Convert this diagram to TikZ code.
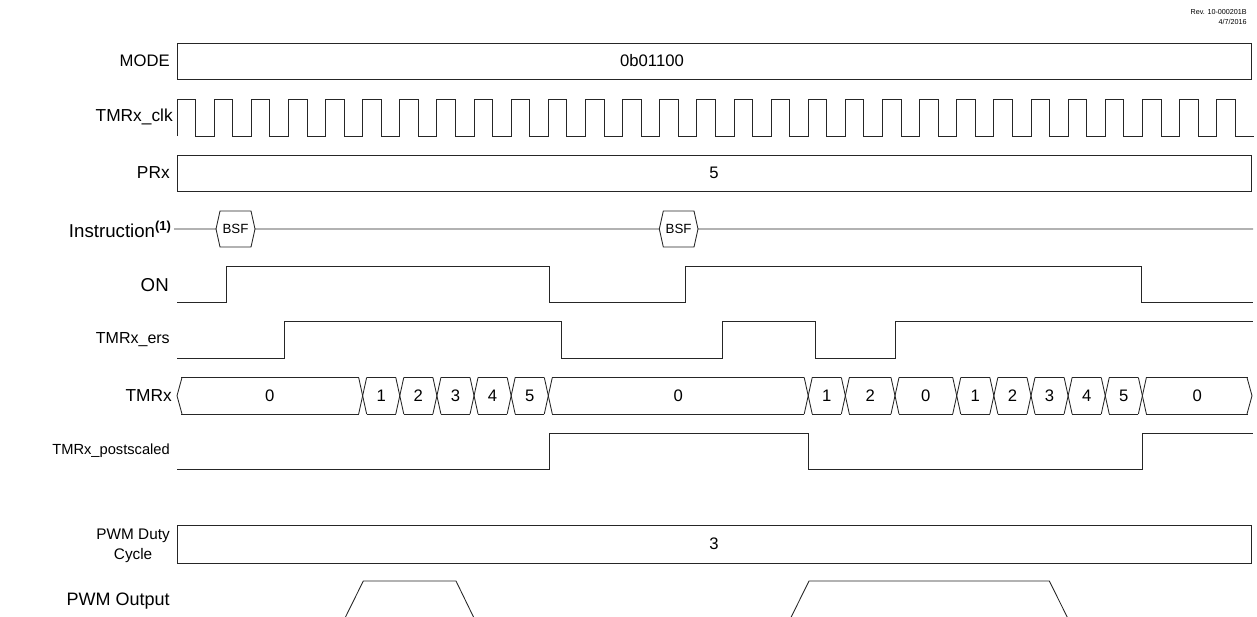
\documentclass[tikz,border=0pt]{standalone}
\usepackage{fontspec}
\setmainfont{Liberation Sans}
\begin{document}
\begin{tikzpicture}[x=0.75pt,y=-0.75pt,
  sig/.style={draw=black!85,line width=0.65pt,line join=miter},
  lbl/.style={anchor=east,inner sep=0pt,font=\fontsize{12.5}{14}\selectfont},
  val/.style={inner sep=0pt,font=\fontsize{12.5}{14}\selectfont},
  hexlbl/.style={inner sep=0pt,font=\fontsize{10}{12}\selectfont}]
\useasboundingbox (0,0) rectangle (1257,617);
\begin{scope}
\clip (0,0) rectangle (1257,617);
% Rev text
\node[anchor=east,align=right,inner sep=0pt,font=\fontsize{5.4}{8}\selectfont] (rev) at (1247,17) {Rev. 10-000201B\\4/7/2016};
% labels
\node[lbl] (lmode) at (170,61) {MODE};
\node[lbl,font=\fontsize{13}{15}\selectfont] (lclk) at (173,117) {TMRx\_clk};
\node[lbl,font=\fontsize{13}{15}\selectfont] (lprx) at (170,173) {PRx};
\node[lbl,font=\fontsize{14}{16}\selectfont] (linst) at (172,229) {Instruction\textsuperscript{\textbf{(1)}}};
\node[lbl,font=\fontsize{14}{16}\selectfont] (lon) at (169,285) {ON};
\node[lbl,font=\fontsize{12}{14}\selectfont] (lers) at (170,340) {TMRx\_ers};
\node[lbl,font=\fontsize{13}{15}\selectfont] (ltmr) at (172,396) {TMRx};
\node[lbl,font=\fontsize{11}{13}\selectfont] (lpost) at (170,451) {TMRx\_postscaled};
\node[lbl,align=center,font=\fontsize{11.5}{15}\selectfont] (lduty) at (170,546) {PWM Duty\\Cycle};
\node[lbl,font=\fontsize{13.5}{16}\selectfont] (lpwm) at (170,601) {PWM Output};
% MODE
\draw[sig] (177,43.5) rectangle (1251,79);
\node[val] (vmode) at (652,61) {0b01100};
% clock
\draw[sig] (177,136) \foreach \k in {0,...,28}{
  -- ({177+37.13*\k},99) -- ({177+37.13*\k+18.56},99) -- ({177+37.13*\k+18.56},136) -- ({177+37.13*(\k+1)},136)};
% PRx
\draw[sig] (177,155) rectangle (1251,191);
\node[val] (vprx) at (714,173) {5};
% Instruction
\draw[sig] (174,229) -- (216,229) -- (220,211) -- (251,211) -- (255,229) -- (659.3,229) -- (663.3,211) -- (694,211) -- (698,229) -- (1253,229);
\draw[sig] (216,229) -- (220,247) -- (251,247) -- (255,229);
\draw[sig] (659.3,229) -- (663.3,247) -- (694,247) -- (698,229);
\node[hexlbl] (bsf1) at (235.5,229) {BSF};
\node[hexlbl] (bsf2) at (678.6,229) {BSF};
% ON
\draw[sig] (177,302)--(226.7,302)--(226.7,266)--(549,266)--(549,302)--(685,302)--(685,266)--(1141,266)--(1141,302)--(1253,302);
% ers
\draw[sig] (177,358)--(284.3,358)--(284.3,321)--(561,321)--(561,358)--(722.3,358)--(722.3,321)--(815.3,321)--(815.3,358)--(895,358)--(895,321)--(1253,321);
% TMRx bus
\def\bt{377.5}\def\bb{414}\def\bm{395.75}
\draw[sig] (182,\bt) -- (177,\bm) -- (182,\bb);
\draw[sig] (1247,\bt) -- (1252,\bm) -- (1247,\bb);
\foreach \a/\b/\v [count=\i] in {177/362.65/0, 362.65/399.78/1, 399.78/436.91/2, 436.91/474.04/3, 474.04/511.17/4, 511.17/548.3/5, 548.3/808.21/0, 808.21/845.34/1, 845.34/895/2, 895/956.73/0, 956.73/993.86/1, 993.86/1030.99/2, 1030.99/1068.12/3, 1068.12/1105.25/4, 1105.25/1142.38/5, 1142.38/1252/0}{
  \draw[sig] ({\a+4},\bt) -- ({\b-4},\bt);
  \draw[sig] ({\a+4},\bb) -- ({\b-4},\bb);
  \node[val] (bus\i) at ({(\a+\b)/2},\bm) {\v};
}
\foreach \c in {362.65,399.78,436.91,474.04,511.17,548.3,808.21,845.34,895,956.73,993.86,1030.99,1068.12,1105.25,1142.38}{
  \draw[sig] ({\c-4},\bt) -- ({\c+4},\bb);
  \draw[sig] ({\c-4},\bb) -- ({\c+4},\bt);
}
% postscaled
\draw[sig] (177,469.5)--(549,469.5)--(549,433.5)--(808.2,433.5)--(808.2,469.5)--(1142.4,469.5)--(1142.4,433.5)--(1253,433.5);
% PWM duty
\draw[sig] (177,525) rectangle (1251,563);
\node[val] (vduty) at (714,544) {3};
% PWM output
\draw[sig] (345,618)--(363.3,581)--(456,581)--(474,618);
\draw[sig] (790.7,618)--(809,581)--(1049.3,581)--(1067.7,618);
\end{scope}
\end{tikzpicture}
\end{document}
